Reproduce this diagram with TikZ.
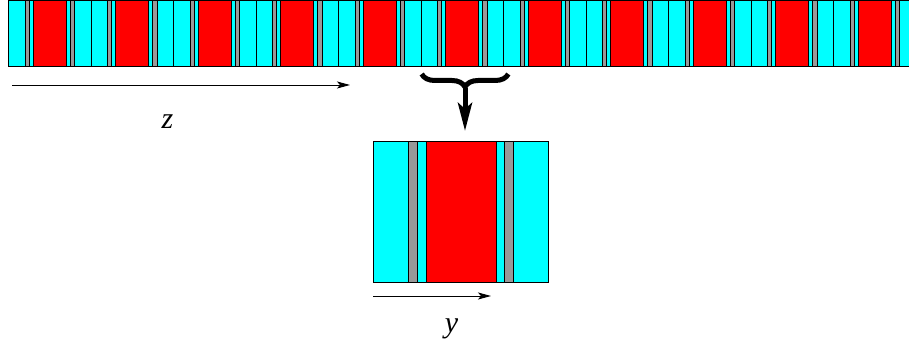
\documentclass[tikz,border=0pt]{standalone}
\usepackage{fontspec}
\setmainfont{Liberation Serif}
\usetikzlibrary{arrows.meta,decorations.pathreplacing}
\definecolor{slab}{HTML}{00FFFF}
\definecolor{core}{HTML}{FF0000}
\definecolor{spacer}{HTML}{999999}

\begin{document}
\begin{tikzpicture}[
  x=1pt,y=1pt,
  stripe/.style={draw=black,line width=0.8pt},
  axis/.style={-{Stealth[length=13pt,width=7pt,inset=3pt]},line width=0.9pt},
  zoomarr/.style={-{Stealth[length=28pt,width=14pt,inset=6pt]},line width=5pt},
  axlabel/.style={font=\fontsize{30pt}{36pt}\selectfont\itshape,inner sep=0pt,anchor=base},
  pics/layercell/.style={code={
    \foreach \a/\b/\c in {0/.2/slab,.2/.25/spacer,.25/.3/slab,.3/.7/core,.7/.75/slab,.75/.8/spacer,.8/1/slab}
      \filldraw[stripe,fill=\c] (\a,0) rectangle (\b,.8);
  }}
]
\useasboundingbox (0,0) rectangle (909,347);
% periodic stack along z
\begin{scope}
  \clip (0,0) rectangle (909,347);
  \foreach \k in {0,...,10}
    \pic[scale=82.5] at ({8.5+82.5*\k},280.5) {layercell};
\end{scope}
% one period, enlarged
\pic[scale=175.4] at (373.3,65) {layercell};
\coordinate (cell top) at (465,216);

% brace over one period and arrow down
\coordinate (brace left) at (421.7,273);
\coordinate (brace right) at (508.3,273);
\draw[line width=5pt,decorate,decoration={brace,mirror,amplitude=13pt}]
  (brace left) -- (brace right);
\coordinate (brace tip) at (465,259);
\draw[zoomarr] (brace tip) -- (cell top);

% axes
\coordinate (z start) at (12,262);
\coordinate (z end) at (350,262);
\draw[axis] (z start) -- (z end);
\node[axlabel] (zlab) at (167.5,218.7) {z};

\coordinate (y start) at (373.3,51);
\coordinate (y end) at (491,51);
\draw[axis] (y start) -- (y end);
\node[axlabel] (ylab) at (451.5,14) {y};
\end{tikzpicture}
\end{document}
